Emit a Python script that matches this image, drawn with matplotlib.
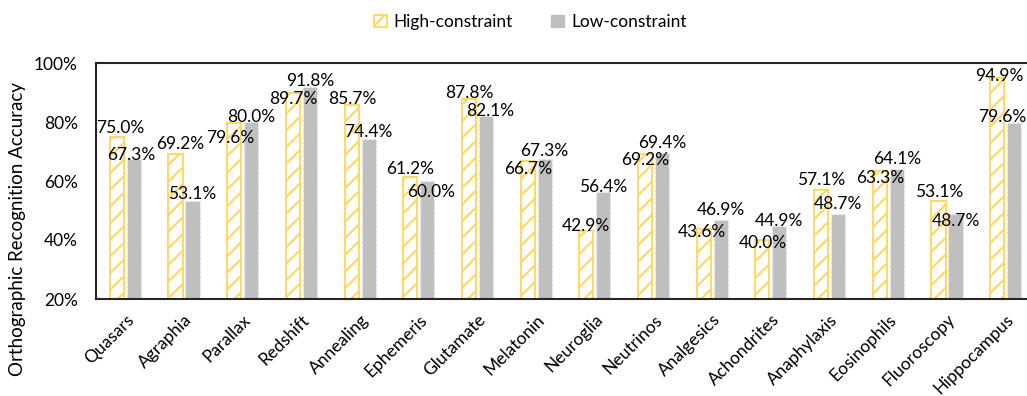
import numpy as np
import matplotlib
matplotlib.use("Agg")
import matplotlib.pyplot as plt
from matplotlib.patches import Patch

plt.rcParams['font.family'] = ['Lato', 'DejaVu Sans']
plt.rcParams['hatch.linewidth'] = 1.6

words = ['Quasars', 'Agraphia', 'Parallax', 'Redshift', 'Annealing', 'Ephemeris',
         'Glutamate', 'Melatonin', 'Neuroglia', 'Neutrinos', 'Analgesics',
         'Achondrites', 'Anaphylaxis', 'Eosinophils', 'Fluoroscopy', 'Hippocampus']
high = [75.0, 69.2, 79.6, 89.7, 85.7, 61.2, 87.8, 66.7, 42.9, 69.2, 43.6, 40.0, 57.1, 63.3, 53.1, 94.9]
low = [67.3, 53.1, 80.0, 91.8, 74.4, 60.0, 82.1, 67.3, 56.4, 69.4, 46.9, 44.9, 48.7, 64.1, 48.7, 79.6]

# label nudges in pixels (dx, dy), to mimic where excel moved the labels
high_off = [(3.5, 3.8), (4.3, 4.9), (-3.8, -19.8), (0.5, -10.6), (0.3, 1.2), (0, 3.5),
            (0.5, 1), (0.3, -12.8), (0, 0.4), (0.5, -11), (-1.7, -7.6), (0.7, -8),
            (0, 4.6), (0.3, -11.7), (0.6, 4.4), (2, -2.7)]
low_off = [(-2.5, -0.5), (0, 2.4), (0, 0), (0, 1.2), (0, 1.5), (3.7, -16),
           (4, 0), (0, 3.5), (0, 0), (0, 5.3), (0, 4.6), (0, 0),
           (0, 5.3), (0, 4.9), (0, -11.7), (-12, 1.2)]

yellow = '#FFD966'
grey = '#BFBFBF'
W, H = 1027, 396

fig = plt.figure(figsize=(W/100, H/100), dpi=100)
ax = fig.add_axes([96/W, (H-299)/H, (1035-96)/W, 236/H])

x = np.arange(len(words))
bw = 0.24
off = 0.145
ax.bar(x - off, high, bw, color='white', edgecolor=yellow, hatch='//', linewidth=1.5, zorder=2)
ax.bar(x + off, low, bw, color=grey, edgecolor='#F2F2F2', linewidth=0.8, linestyle=(0, (2, 2)), zorder=2)

fs = 12.5
for i in range(len(words)):
    ax.annotate(f'{high[i]:.1f}%', (x[i] - off, high[i]), xytext=high_off[i], textcoords='offset pixels',
                ha='center', va='baseline', fontsize=fs, color='black', zorder=5)
    ax.annotate(f'{low[i]:.1f}%', (x[i] + off, low[i]), xytext=low_off[i], textcoords='offset pixels',
                ha='center', va='baseline', fontsize=fs, color='black', zorder=5)

ax.set_ylim(20, 100)
ax.set_xlim(-0.5, len(words) - 0.5)
ax.set_yticks([20, 40, 60, 80, 100])
ax.set_yticklabels(['20%', '40%', '60%', '80%', '100%'], fontsize=fs)
ax.set_xticks(x)
ax.set_xticklabels(words, rotation=45, ha='right', rotation_mode='anchor', fontsize=fs)
ax.tick_params(axis='both', length=0)
ax.tick_params(axis='y', pad=13)
ax.tick_params(axis='x', pad=9)

for s in ['left', 'top', 'bottom']:
    ax.spines[s].set_color('#262626')
    ax.spines[s].set_linewidth(1.5)
ax.spines['right'].set_visible(False)

fig.text(18/W, 1 - 229/H, 'Orthographic Recognition Accuracy', rotation=90,
         ha='center', va='center', fontsize=13.5)

handles = [Patch(facecolor='white', edgecolor=yellow, hatch='//', linewidth=1.5, label='High-constraint'),
           Patch(facecolor=grey, edgecolor=grey, label='Low-constraint')]
fig.legend(handles=handles, loc='center', bbox_to_anchor=(530/W, 1 - 22/H), ncol=2, frameon=False,
           fontsize=fs, handlelength=0.75, handleheight=0.75, handletextpad=0.4, columnspacing=2.2)

fig.savefig('out.png', dpi=100)
